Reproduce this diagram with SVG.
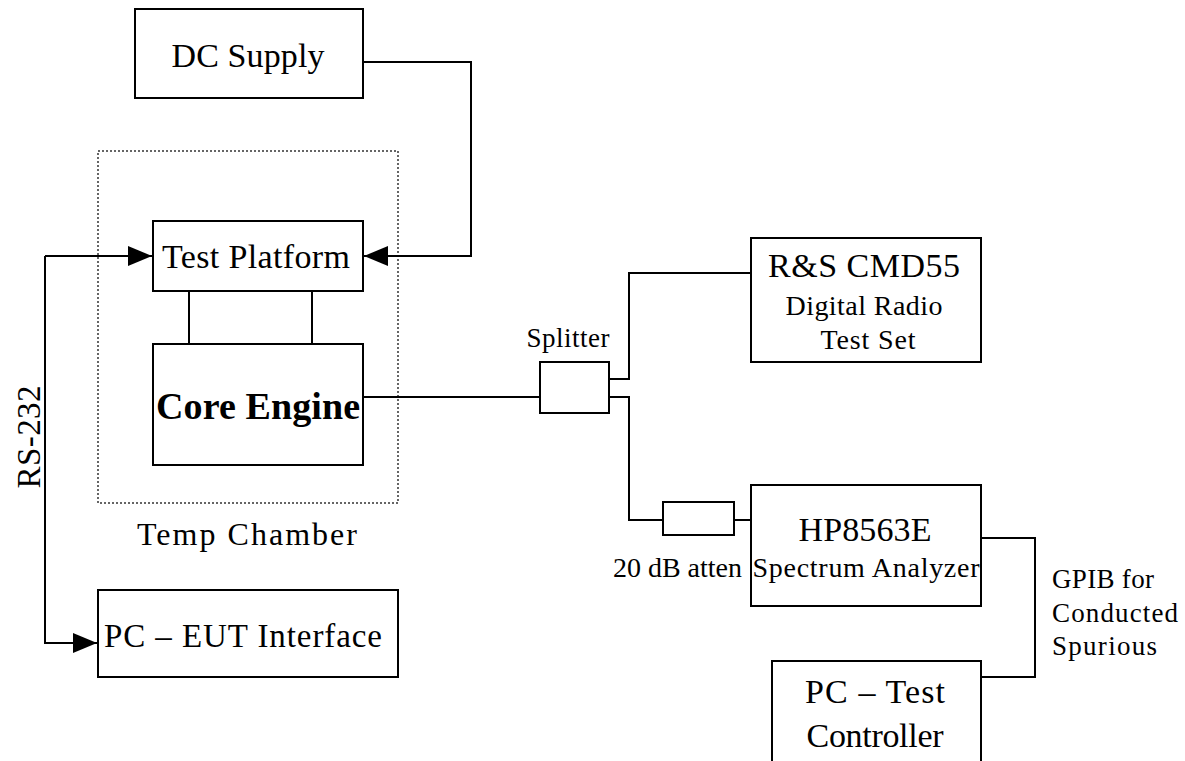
<svg xmlns="http://www.w3.org/2000/svg" width="1185" height="761" viewBox="0 0 1185 761">
<style>
  .box { fill: #fff; stroke: #000; stroke-width: 2; }
  .wire { fill: none; stroke: #000; stroke-width: 2; }
  .dot { fill: none; stroke: #333; stroke-width: 1.5; stroke-dasharray: 2 2; }
  text { font-family: "Liberation Serif", "Times New Roman", serif; fill: #000; }
  .c { text-anchor: middle; }
</style>
<defs>
  <marker id="arr" viewBox="0 0 24 20" refX="24" refY="10" markerWidth="24" markerHeight="20" markerUnits="userSpaceOnUse" orient="auto">
    <path d="M0,0 L24,10 L0,20 Z" fill="#000"/>
  </marker>
</defs>
<rect width="1185" height="761" fill="#fff"/>

<g id="temp-chamber">
  <rect class="dot" x="98" y="151" width="300" height="352"/>
  <text class="c" x="247" y="545" font-size="32" textLength="220">Temp Chamber</text>
</g>

<g id="connectors">
  <polyline class="wire" points="363,62 471,62 471,256 364,256" marker-end="url(#arr)"/>
  <polyline class="wire" points="45,256 152,256"  marker-end="url(#arr)"/>
  <polyline class="wire" points="45,256 45,643 97,643" marker-end="url(#arr)"/>
  <line class="wire" x1="189" y1="291" x2="189" y2="344"/>
  <line class="wire" x1="312" y1="291" x2="312" y2="344"/>
  <line class="wire" x1="363" y1="397" x2="540" y2="397"/>
  <polyline class="wire" points="609,379 629,379 629,273 752,273"/>
  <polyline class="wire" points="609,397 629,397 629,520 663,520"/>
  <line class="wire" x1="734" y1="520" x2="752" y2="520"/>
  <polyline class="wire" points="981,538 1035,538 1035,677 982,677"/>
  <text x="40" y="437" font-size="33" class="c" transform="rotate(-90 40 437)" textLength="103">RS-232</text>
  <text x="1052" y="588" font-size="27" textLength="102">GPIB for</text>
  <text x="1052" y="622" font-size="27" textLength="126">Conducted</text>
  <text x="1052" y="655" font-size="27" textLength="105">Spurious</text>
</g>

<g id="dc-supply">
  <rect class="box" x="135" y="9" width="228" height="89"/>
  <text class="c" x="248" y="67" font-size="34" textLength="153">DC Supply</text>
</g>

<g id="test-platform">
  <rect class="box" x="153" y="221" width="210" height="70"/>
  <text class="c" x="256" y="268" font-size="34" textLength="188">Test Platform</text>
</g>

<g id="core-engine">
  <rect class="box" x="153" y="344" width="210" height="121"/>
  <text class="c" x="258" y="419" font-size="38" font-weight="bold" textLength="204">Core Engine</text>
</g>

<g id="pc-eut">
  <rect class="box" x="98" y="590" width="300" height="87"/>
  <text class="c" x="243" y="647" font-size="33" textLength="278">PC – EUT Interface</text>
</g>

<g id="splitter">
  <rect class="box" x="540" y="362" width="69" height="51"/>
  <text class="c" x="568" y="347" font-size="27" textLength="83">Splitter</text>
</g>

<g id="attenuator">
  <rect class="box" x="663" y="502" width="71" height="33"/>
  <text x="613" y="577" font-size="28" textLength="129">20 dB atten</text>
</g>

<g id="cmd55">
  <rect class="box" x="751" y="238" width="230" height="124"/>
  <text class="c" x="864" y="277" font-size="34" textLength="192">R&amp;S CMD55</text>
  <text class="c" x="864" y="315" font-size="28" textLength="157">Digital Radio</text>
  <text class="c" x="868" y="349" font-size="28" textLength="95">Test Set</text>
</g>

<g id="hp8563e">
  <rect class="box" x="751" y="485" width="230" height="121"/>
  <text class="c" x="865" y="541" font-size="34" textLength="133">HP8563E</text>
  <text class="c" x="866" y="577" font-size="28" textLength="227">Spectrum Analyzer</text>
</g>

<g id="pc-test">
  <rect class="box" x="772" y="661" width="209" height="110"/>
  <text class="c" x="875" y="703" font-size="34" textLength="140">PC – Test</text>
  <text class="c" x="875" y="747" font-size="34" textLength="137">Controller</text>
</g>
</svg>
